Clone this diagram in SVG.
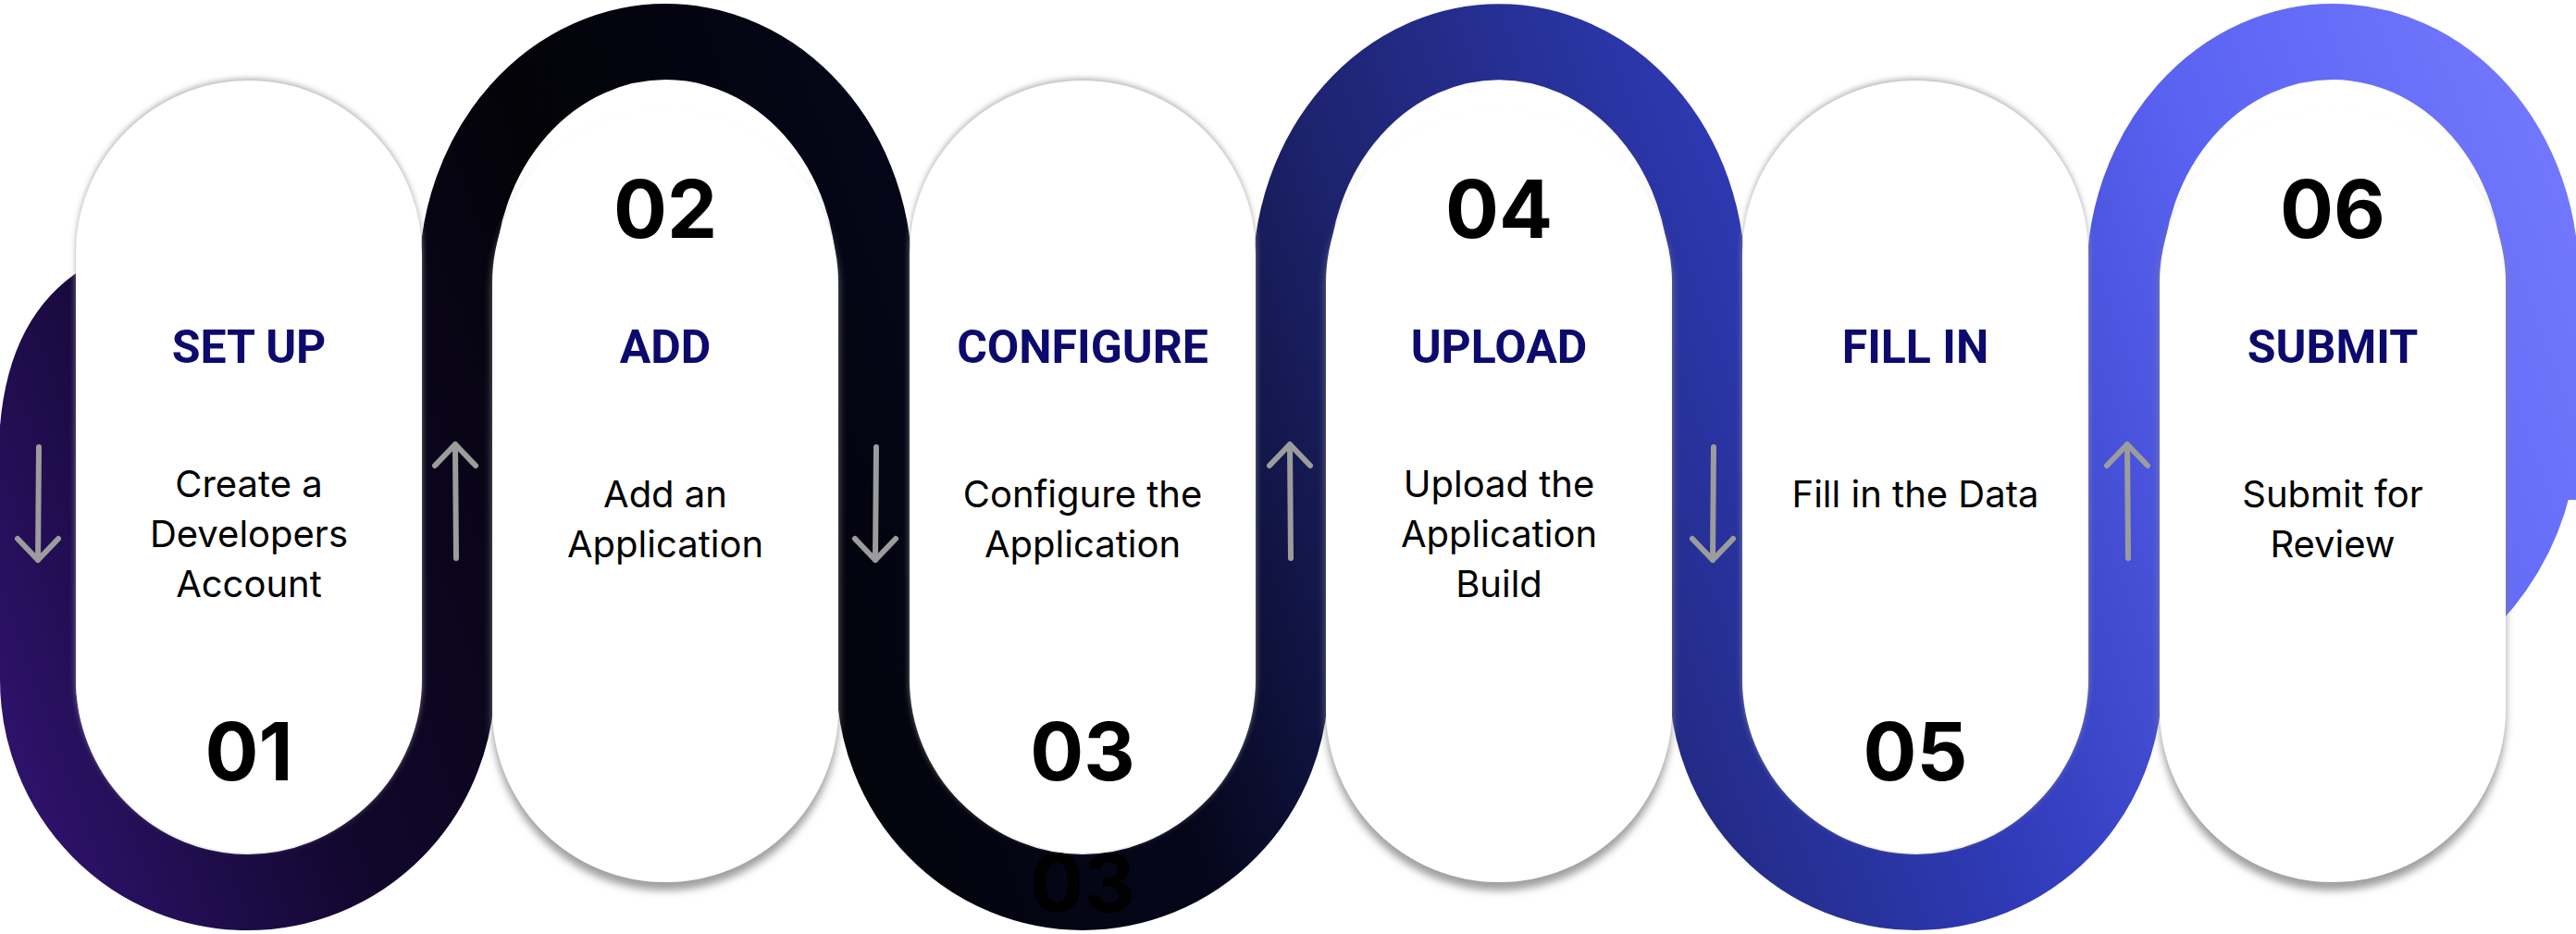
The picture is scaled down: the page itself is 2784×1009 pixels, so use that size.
<svg xmlns="http://www.w3.org/2000/svg" width="2784" height="1009" viewBox="0 0 2784 1009">
<defs>
<linearGradient id="band" gradientUnits="userSpaceOnUse" x1="0" y1="1009" x2="2784" y2="0">
<stop offset="0" stop-color="#34157a"/>
<stop offset="0.13" stop-color="#12072e"/>
<stop offset="0.28" stop-color="#030308"/>
<stop offset="0.42" stop-color="#05061a"/>
<stop offset="0.55" stop-color="#1d236e"/>
<stop offset="0.7" stop-color="#2f3bb8"/>
<stop offset="0.85" stop-color="#5a62f2"/>
<stop offset="1" stop-color="#777cff"/>
</linearGradient>
<filter id="shTop" x="-10%" y="-10%" width="120%" height="120%"><feDropShadow dx="0" dy="-2" stdDeviation="3" flood-color="#999" flood-opacity="0.8"/></filter>
<filter id="shBot" x="-10%" y="-10%" width="120%" height="120%"><feDropShadow dx="0" dy="9" stdDeviation="4" flood-color="#888" flood-opacity="0.8"/></filter>
</defs>
<style>
.pill{fill:#fff}
.num{font-family:Inter,"Liberation Sans",sans-serif;font-weight:700;font-size:86px;fill:#000;text-anchor:middle}
.ttl{font-family:Roboto,"Liberation Sans",sans-serif;font-weight:700;font-size:50px;fill:#0d0a6e;text-anchor:middle}
.body{font-family:Inter,"Liberation Sans",sans-serif;font-size:40px;fill:#000;text-anchor:middle}
.arr{fill:none;stroke:#9c9c9c;stroke-width:6;stroke-linecap:round;stroke-linejoin:round}
</style>
<rect width="2784" height="1009" fill="#fff"/>
<g id="connectors">
<path d="M41 500 L41 734 A226.5 230 0 0 0 494 734 L494 300 A225.5 255 0 0 1 945 300 L945 734 A225 230 0 0 0 1395 734 L1395 300 A225 255 0 0 1 1845 300 L1845 734 A225.5 230 0 0 0 2296 734 L2296 300 A225 255 0 0 1 2746 300 L2746 540" fill="none" stroke="url(#band)" stroke-width="82"/>
<path d="M0 510 L0 460 Q 10 340 90 290 L90 510 Z" fill="url(#band)"/>
<path d="M2700 530 L2784 530 L2784 500 Q 2770 600 2700 675 Z" fill="url(#band)"/>
<text class="num" x="1170" y="985">03</text>
</g>
<g id="n1"><rect class="pill" filter="url(#shTop)" x="82" y="87" width="374" height="834" rx="187"/>
<text class="ttl" x="269" y="392">SET UP</text>
<text class="body" x="269" y="537">Create a</text><text class="body" x="269" y="591">Developers</text><text class="body" x="269" y="645">Account</text>
<text class="num" x="269" y="843">01</text></g>
<g id="n2"><rect class="pill" filter="url(#shBot)" x="532" y="119" width="374" height="834" rx="187"/>
<text class="num" x="719" y="257">02</text>
<text class="ttl" x="719" y="392">ADD</text>
<text class="body" x="719" y="548">Add an</text><text class="body" x="719" y="602">Application</text></g>
<g id="n3"><rect class="pill" filter="url(#shTop)" x="983" y="87" width="374" height="834" rx="187"/>
<text class="ttl" x="1170" y="392">CONFIGURE</text>
<text class="body" x="1170" y="548">Configure the</text><text class="body" x="1170" y="602">Application</text>
<text class="num" x="1170" y="843">03</text></g>
<g id="n4"><rect class="pill" filter="url(#shBot)" x="1433" y="119" width="374" height="834" rx="187"/>
<text class="num" x="1620" y="257">04</text>
<text class="ttl" x="1620" y="392">UPLOAD</text>
<text class="body" x="1620" y="537">Upload the</text><text class="body" x="1620" y="591">Application</text><text class="body" x="1620" y="645">Build</text></g>
<g id="n5"><rect class="pill" filter="url(#shTop)" x="1883" y="87" width="374" height="834" rx="187"/>
<text class="ttl" x="2070" y="392">FILL IN</text>
<text class="body" x="2070" y="548">Fill in the Data</text>
<text class="num" x="2070" y="843">05</text></g>
<g id="n6"><rect class="pill" filter="url(#shBot)" x="2334" y="119" width="374" height="834" rx="187"/>
<text class="num" x="2521" y="257">06</text>
<text class="ttl" x="2521" y="392">SUBMIT</text>
<text class="body" x="2521" y="548">Submit for</text><text class="body" x="2521" y="602">Review</text></g>
<g id="arrows">
<path class="arr" d="M42 483 L41 605 M19 582 L41 605 L63 582"/>
<path class="arr" d="M493 603 L492 480 M470 503 L492 480 L514 503"/>
<path class="arr" d="M947 483 L946 605 M924 582 L946 605 L968 582"/>
<path class="arr" d="M1395 603 L1394 480 M1372 503 L1394 480 L1416 503"/>
<path class="arr" d="M1852 483 L1851 605 M1829 582 L1851 605 L1873 582"/>
<path class="arr" d="M2300 603 L2299 480 M2277 503 L2299 480 L2321 503"/>
</g>
</svg>
